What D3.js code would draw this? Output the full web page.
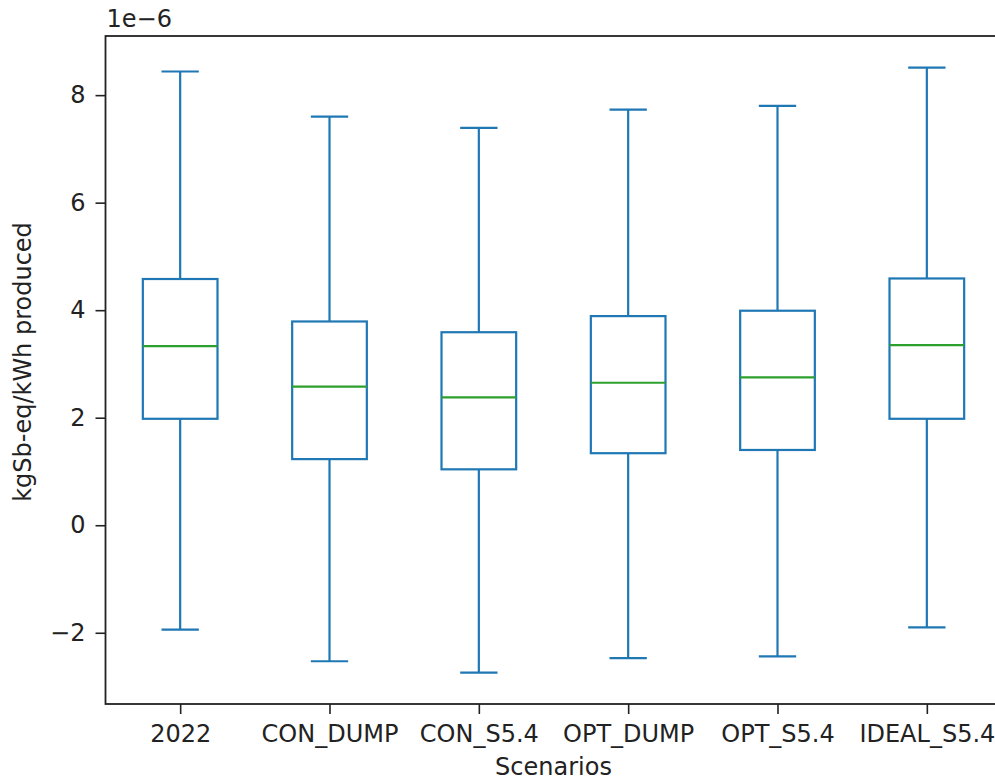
<!DOCTYPE html>
<html>
<head>
<meta charset="utf-8">
<script src="https://cdn.jsdelivr.net/npm/d3@7/dist/d3.min.js"></script>
<style>
  html, body { margin: 0; padding: 0; background: #fff; }
  svg { display: block; font-family: "DejaVu Sans", sans-serif; }
</style>
</head>
<body>
<svg id="chart" width="995" height="780"></svg>
<script>
// ---- data (units of 1e-6 kgSb-eq/kWh) ----
const categories  = ["2022", "CON_DUMP", "CON_S5.4", "OPT_DUMP", "OPT_S5.4", "IDEAL_S5.4"];
const whiskerHigh = [8.44, 7.60, 7.39, 7.73, 7.80, 8.51];
const q3          = [4.58, 3.79, 3.59, 3.89, 3.99, 4.59];
const median      = [3.33, 2.58, 2.38, 2.65, 2.75, 3.35];
const q1          = [1.98, 1.23, 1.04, 1.34, 1.40, 1.98];
const whiskerLow  = [-1.94, -2.53, -2.74, -2.47, -2.44, -1.90];
const yTicks      = [-2, 0, 2, 4, 6, 8];

const boxes = categories.map((c, i) => ({
  cat: c, pos: i + 1,
  lo: whiskerLow[i], q1: q1[i], med: median[i], q3: q3[i], hi: whiskerHigh[i]
}));

const svg = d3.select("#chart");
const L = 105.5, R = 1001.5, T = 36, B = 704;
const FS = 24;
const blue = "#1f77b4", green = "#2ca02c";

const x = d3.scaleLinear().domain([0.5, categories.length + 0.5]).range([L, R]);
const y = d3.scaleLinear().domain([-3.325, 9.1]).range([B, T]);

const fmt = d => d < 0 ? "\u2212" + Math.abs(d) : String(d);

// y axis
const yAxis = svg.append("g").attr("transform", `translate(${L},0)`)
  .call(d3.axisLeft(y).tickValues(yTicks).tickFormat(fmt).tickSize(10).tickPadding(10));
yAxis.select(".domain").remove();
yAxis.selectAll(".tick line").attr("stroke", "#222").attr("stroke-width", 1.6);
yAxis.selectAll(".tick text").attr("font-size", FS).attr("fill", "#222")
  .attr("font-family", "DejaVu Sans, sans-serif");

// x axis
const xAxis = svg.append("g").attr("transform", `translate(0,${B})`)
  .call(d3.axisBottom(x).tickValues(boxes.map(b => b.pos))
    .tickFormat((d, i) => categories[i]).tickSize(10).tickPadding(11));
xAxis.select(".domain").remove();
xAxis.selectAll(".tick line").attr("stroke", "#222").attr("stroke-width", 1.6);
xAxis.selectAll(".tick text").attr("font-size", FS).attr("fill", "#222")
  .attr("font-family", "DejaVu Sans, sans-serif");

// boxes
const g = svg.append("g");
const bw = 0.25, cw = 0.125;
const bx = g.selectAll("g.box").data(boxes).join("g").attr("class", "box");

// whiskers
bx.append("line")
  .attr("x1", d => x(d.pos)).attr("x2", d => x(d.pos))
  .attr("y1", d => y(d.q3)).attr("y2", d => y(d.hi))
  .attr("stroke", blue).attr("stroke-width", 2.2);
bx.append("line")
  .attr("x1", d => x(d.pos)).attr("x2", d => x(d.pos))
  .attr("y1", d => y(d.q1)).attr("y2", d => y(d.lo))
  .attr("stroke", blue).attr("stroke-width", 2.2);
// caps
bx.append("line")
  .attr("x1", d => x(d.pos - cw)).attr("x2", d => x(d.pos + cw))
  .attr("y1", d => y(d.hi)).attr("y2", d => y(d.hi))
  .attr("stroke", blue).attr("stroke-width", 2.2);
bx.append("line")
  .attr("x1", d => x(d.pos - cw)).attr("x2", d => x(d.pos + cw))
  .attr("y1", d => y(d.lo)).attr("y2", d => y(d.lo))
  .attr("stroke", blue).attr("stroke-width", 2.2);
// box
bx.append("rect")
  .attr("x", d => x(d.pos - bw)).attr("width", d => x(d.pos + bw) - x(d.pos - bw))
  .attr("y", d => y(d.q3)).attr("height", d => y(d.q1) - y(d.q3))
  .attr("fill", "none").attr("stroke", blue).attr("stroke-width", 2.2);
// median
bx.append("line")
  .attr("x1", d => x(d.pos - bw)).attr("x2", d => x(d.pos + bw))
  .attr("y1", d => y(d.med)).attr("y2", d => y(d.med))
  .attr("stroke", green).attr("stroke-width", 2.2);

// frame
svg.append("rect").attr("x", L).attr("y", T).attr("width", R - L).attr("height", B - T)
  .attr("fill", "none").attr("stroke", "#222").attr("stroke-width", 1.8);

// offset text
svg.append("text").attr("x", L + 1).attr("y", 27)
  .attr("font-size", FS).attr("fill", "#222").text("1e\u22126");

// axis labels
svg.append("text").attr("x", (L + R) / 2).attr("y", 775)
  .attr("text-anchor", "middle").attr("font-size", FS).attr("fill", "#222")
  .text("Scenarios");
svg.append("text").attr("transform", "translate(31,362) rotate(-90)")
  .attr("text-anchor", "middle").attr("font-size", FS).attr("fill", "#222")
  .text("kgSb-eq/kWh produced");
</script>
</body>
</html>
